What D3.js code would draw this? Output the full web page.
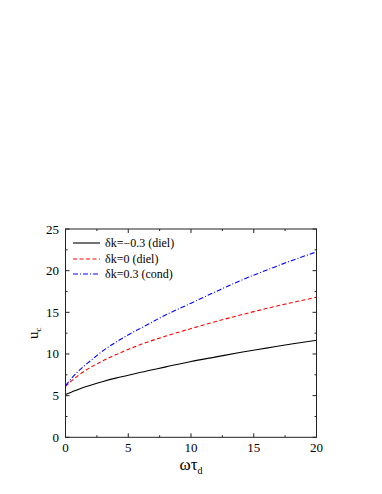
<!DOCTYPE html>
<meta charset="utf-8">
<style>
    body { margin: 0; background: #fff; }
    text { font-family: "Liberation Serif", "Times New Roman", "DejaVu Serif", serif; }
</style>
<script src="https://d3js.org/d3.v7.min.js"></script>
<div id="svg-holder"></div>
<script>
    var width = 382, height = 494;

    // data
    var xs = [0, 0.5, 1, 2, 3, 4, 5, 6, 8, 10, 12, 14, 16, 18, 20];
    var diel_neg = [5.15, 5.45, 5.75, 6.25, 6.7, 7.1, 7.45, 7.8, 8.45, 9.1, 9.65, 10.2, 10.7, 11.2, 11.65];
    var diel_zero = [6.1, 6.8, 7.4, 8.4, 9.2, 9.9, 10.55, 11.15, 12.15, 13.05, 13.9, 14.7, 15.45, 16.15, 16.8];
    var cond_pos = [6.2, 7.1, 7.9, 9.2, 10.4, 11.4, 12.3, 13.1, 14.7, 16.1, 17.5, 18.85, 20.05, 21.2, 22.25];
    var series_names = ["\u03B4k=\u22120.3 (diel)", "\u03B4k=0 (diel)", "\u03B4k=0.3 (cond)"];
    var series_colors = ["#000000", "#ff0000", "#0000ff"];
    var series_dash = [null, "4,2.5", "5,2,1,2"];
    var x_ticks = [0, 5, 10, 15, 20];
    var y_ticks = [0, 5, 10, 15, 20, 25];

    // plot frame
    var plot_left = 65.5, plot_right = 316.5, plot_top = 229, plot_bottom = 437.3;

    var svg = d3.select("#svg-holder").append("svg")
        .attr("width", width).attr("height", height)
        .attr("font-family", "'Liberation Serif', 'Times New Roman', serif");

    var x = d3.scaleLinear().domain([0, 20]).range([plot_left, plot_right]);
    var y = d3.scaleLinear().domain([0, 25]).range([plot_bottom, plot_top]);

    // major + minor ticks on all four sides
    var minorX = d3.range(0, 20.01, 2.5), minorY = d3.range(0, 25.01, 2.5);
    var g = svg.append("g").attr("stroke", "#222").attr("stroke-width", 1);
    minorX.forEach(function(v) {
        var len = (v % 5 === 0) ? 4 : 2;
        g.append("line").attr("x1", x(v)).attr("x2", x(v)).attr("y1", plot_bottom).attr("y2", plot_bottom - len);
        g.append("line").attr("x1", x(v)).attr("x2", x(v)).attr("y1", plot_top).attr("y2", plot_top + len);
    });
    minorY.forEach(function(v) {
        var len = (v % 5 === 0) ? 4 : 2;
        g.append("line").attr("y1", y(v)).attr("y2", y(v)).attr("x1", plot_left).attr("x2", plot_left + len);
        g.append("line").attr("y1", y(v)).attr("y2", y(v)).attr("x1", plot_right).attr("x2", plot_right - len);
    });

    // tick labels
    x_ticks.forEach(function(v) {
        svg.append("text").attr("x", x(v)).attr("y", 452)
            .attr("text-anchor", "middle").attr("font-size", "13px").text(v);
    });
    y_ticks.forEach(function(v) {
        svg.append("text").attr("x", 59).attr("y", y(v) + 4.5)
            .attr("text-anchor", "end").attr("font-size", "13px").text(v);
    });

    // axis labels
    var xl = svg.append("text").attr("x", 191).attr("y", 470)
        .attr("text-anchor", "middle").attr("font-size", "17px");
    xl.append("tspan").text("\u03C9\u03C4");
    xl.append("tspan").attr("font-size", "10px").attr("dy", 4).text("d");

    var yl = svg.append("text")
        .attr("transform", "translate(38," + ((plot_top + plot_bottom) / 2) + ") rotate(-90)")
        .attr("text-anchor", "middle").attr("font-size", "15px");
    yl.append("tspan").text("u");
    yl.append("tspan").attr("font-size", "9px").attr("dy", 3).text("c");

    // curves
    var line = d3.line()
        .x(function(d) { return x(d[0]); })
        .y(function(d) { return y(d[1]); })
        .curve(d3.curveMonotoneX);
    [diel_neg, diel_zero, cond_pos].forEach(function(vals, i) {
        svg.append("path")
            .datum(xs.map(function(v, j) { return [v, vals[j]]; }))
            .attr("fill", "none")
            .attr("stroke", series_colors[i])
            .attr("stroke-width", 1.1)
            .attr("stroke-dasharray", series_dash[i])
            .attr("d", line);
    });

    // frame
    svg.append("rect").attr("x", plot_left).attr("y", plot_top)
        .attr("width", plot_right - plot_left).attr("height", plot_bottom - plot_top)
        .attr("fill", "none").attr("stroke", "#222").attr("stroke-width", 1);

    // legend
    var ly = [243, 259, 274];
    series_names.forEach(function(name, i) {
        svg.append("line").attr("x1", 73).attr("x2", 100)
            .attr("y1", ly[i]).attr("y2", ly[i])
            .attr("stroke", series_colors[i]).attr("stroke-width", 1.1)
            .attr("stroke-dasharray", series_dash[i]);
        svg.append("text").attr("x", 105).attr("y", ly[i] + 4)
            .attr("font-size", "12px").text(name);
    });
</script>
